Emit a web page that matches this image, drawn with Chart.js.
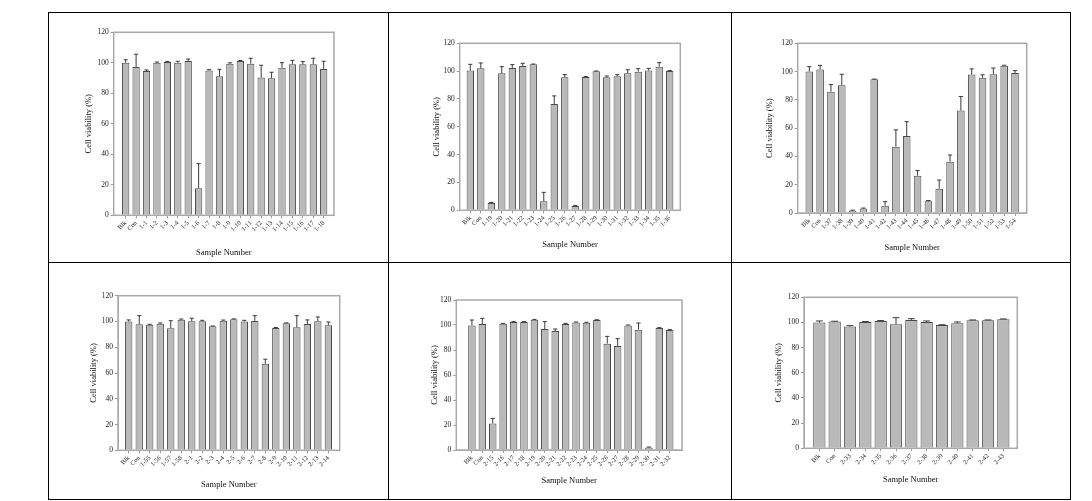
<!DOCTYPE html>
<html>
<head>
<meta charset="utf-8">
<script src="https://cdn.jsdelivr.net/npm/chart.js@4.4.1/dist/chart.umd.min.js"></script>
<style>
  body { margin: 0; background: #fff; width: 1092px; height: 501px; position: relative; overflow: hidden; }
  canvas { position: absolute; }
  .ln { position: absolute; background: #000; z-index: 2; }
</style>
</head>
<body>
<canvas id="c1"></canvas><canvas id="c2"></canvas><canvas id="c3"></canvas>
<canvas id="c4"></canvas><canvas id="c5"></canvas><canvas id="c6"></canvas>
<div class="ln" style="left:48px;top:12px;width:1023px;height:1px"></div>
<div class="ln" style="left:48px;top:262px;width:1023px;height:1px"></div>
<div class="ln" style="left:48px;top:499px;width:1023px;height:1px"></div>
<div class="ln" style="left:48px;top:12px;width:1px;height:488px"></div>
<div class="ln" style="left:388px;top:12px;width:1px;height:488px"></div>
<div class="ln" style="left:731px;top:12px;width:1px;height:488px"></div>
<div class="ln" style="left:1070px;top:12px;width:1px;height:488px"></div>
<script>
// sample labels per panel
const labels1 = ['Blk','Con','1-1','1-2','1-3','1-4','1-5','1-6','1-7','1-8','1-9','1-10','1-11','1-12','1-13','1-14','1-15','1-16','1-17','1-18'];
const labels2 = ['Blk','Con','1-19','1-20','1-21','1-22','1-23','1-24','1-25','1-26','1-27','1-28','1-29','1-30','1-31','1-32','1-33','1-34','1-35','1-36'];
const labels3 = ['Blk','Con','1-37','1-38','1-39','1-40','1-41','1-42','1-43','1-44','1-45','1-46','1-47','1-48','1-49','1-50','1-51','1-52','1-53','1-54'];
const labels4 = ['Blk','Con','1-55','1-56','1-57','1-58','2-1','2-2','2-3','2-4','2-5','2-6','2-7','2-8','2-9','2-10','2-11','2-12','2-13','2-14'];
const labels5 = ['Blk','Con','2-15','2-16','2-17','2-18','2-19','2-20','2-21','2-22','2-23','2-24','2-25','2-26','2-27','2-28','2-29','2-30','2-31','2-32'];
const labels6 = ['Blk','Con','2-33','2-34','2-35','2-36','2-37','2-38','2-39','2-40','2-41','2-42','2-43'];

// cell viability (%) means
const viab1 = [100, 97.3, 94.6, 100, 100.5, 100, 101.2, 17.7, 95, 91.1, 99.4, 101.2, 99.4, 90.3, 89.8, 96.8, 99, 99, 99, 96];
const viab2 = [100.4, 102, 5.3, 98.4, 102.3, 103.7, 104.9, 6.5, 76.4, 95.6, 3.1, 95.8, 99.9, 95.6, 96.3, 98.4, 99.6, 100.4, 103.2, 100.1];
const viab3 = [100, 101.4, 85.8, 90.3, 1.7, 3.1, 94.5, 5.2, 46.9, 54.5, 26.4, 8.3, 17.2, 36.3, 72.4, 97.9, 95.6, 98.1, 104.2, 99];
const viab4 = [99.9, 97.8, 97.5, 98.3, 94.7, 101.4, 100.1, 100.1, 96.3, 100.6, 101.7, 99.9, 100.4, 67.1, 95, 98.6, 95.5, 98.1, 100.1, 97];
const viab5 = [99.7, 100.8, 21.3, 101, 102.4, 102.4, 104.3, 96.8, 95.2, 100.8, 102.1, 101.9, 104, 85.1, 83.2, 99.7, 96.3, 2.1, 97.6, 96];
const viab6 = [99.9, 100.7, 96.7, 100.4, 101.2, 98.5, 101.9, 100.4, 98, 99.3, 101.7, 101.7, 102.5];

// standard deviations (upper error bars)
const sd1 = [2, 8.3, 0.7, 0.5, 0.3, 1, 1.3, 16.2, 0.5, 4.6, 0.6, 0.3, 3.6, 8.1, 4, 3.3, 2.6, 1.8, 4, 5];
const sd2 = [4.5, 3.9, 0.4, 4.8, 2.4, 1.9, 0.2, 6.4, 5.8, 1.9, 0.4, 0.3, 0.2, 0.9, 1.2, 2.6, 2.2, 1.6, 2.9, 0.3];
const sd3 = [3.5, 3, 5, 7.8, 0.3, 0.4, 0.2, 2.8, 11.9, 10.1, 3.6, 0.5, 6.1, 4.7, 10, 4, 2.1, 4.4, 0.3, 1.7];
const sd4 = [1.3, 6.7, 0.3, 0.5, 5.9, 0.5, 2.4, 0.8, 0.2, 0.5, 0.3, 1, 4.1, 3.6, 0.3, 0.3, 9, 3.1, 3.4, 2.6];
const sd5 = [4.3, 4.5, 4, 0.3, 0.3, 0.3, 0.2, 5.9, 1.6, 0.5, 0.3, 0.3, 0.2, 5.8, 5.9, 0.3, 5.3, 0.3, 0.3, 0.3];
const sd6 = [1.3, 0.3, 0.8, 0.3, 0.3, 5.3, 1.1, 0.8, 0.2, 1.1, 0.3, 0.3, 0.3];

const yTicks = [0, 20, 40, 60, 80, 100, 120];

// layout: table cell, plot frame, title positions, x range
const panels = [
  { id: 'c1', cell: [48, 12, 388, 262], frame: [113.7, 32.3, 334, 215.3], yt: 88.7, xt: 252.3, xr: [-1.15, 19.99], bp: 0.7 },
  { id: 'c2', cell: [388, 12, 731, 262], frame: [459.7, 43.3, 680.3, 210.3], yt: 436.3, xt: 245, xr: [-1.01, 20.01], bp: 0.7 },
  { id: 'c3', cell: [731, 12, 1070, 262], frame: [797.7, 43.3, 1026.7, 213], yt: 770, xt: 248, xr: [-1.07, 20.08], bp: 0.7 },
  { id: 'c4', cell: [48, 262, 388, 499], frame: [118, 295.7, 339.7, 450.3], yt: 93.7, xt: 484.3, xr: [-1.02, 20.08], bp: 0.7 },
  { id: 'c5', cell: [388, 262, 731, 499], frame: [456.3, 300, 682, 450], yt: 434.3, xt: 481, xr: [-1.5, 20.18], bp: 0.72 },
  { id: 'c6', cell: [731, 262, 1070, 499], frame: [804, 297.3, 1017.3, 448.3], yt: 778.7, xt: 480, xr: [-1.0, 12.91], bp: 0.8 }
];

const allLabels = [labels1, labels2, labels3, labels4, labels5, labels6];
const allViab = [viab1, viab2, viab3, viab4, viab5, viab6];
const allSd = [sd1, sd2, sd3, sd4, sd5, sd6];

const serif = "'Liberation Serif', 'DejaVu Serif', serif";
const titleSize = 8.5, lh = titleSize * 1.2;

function makeChart(p, lbls, vals, sd) {
  const cv = document.getElementById(p.id);
  const [cl, ct, cr, cb] = p.cell;
  const [fl, ft, fr, fb] = p.frame;
  cv.width = cr - cl; cv.height = cb - ct;
  cv.style.left = cl + 'px'; cv.style.top = ct + 'px';
  const yW = fl - p.yt + lh / 2;
  const xH = p.xt - fb + lh / 2;

  const errorBars = {
    id: 'errorBars',
    afterDatasetsDraw(chart) {
      const ctx = chart.ctx, y = chart.scales.y;
      const meta = chart.getDatasetMeta(0);
      ctx.save();
      ctx.strokeStyle = '#3a3a3a';
      ctx.lineWidth = 1;
      meta.data.forEach((bar, i) => {
        const yv = y.getPixelForValue(vals[i]);
        const ye = y.getPixelForValue(vals[i] + sd[i]);
        const cap = bar.width * 0.28;
        ctx.beginPath();
        ctx.moveTo(bar.x, yv); ctx.lineTo(bar.x, ye);
        ctx.moveTo(bar.x - cap, ye); ctx.lineTo(bar.x + cap, ye);
        ctx.stroke();
      });
      ctx.restore();
    }
  };
  const frame = {
    id: 'frame',
    afterDraw(chart) {
      const a = chart.chartArea, ctx = chart.ctx;
      ctx.save();
      ctx.strokeStyle = '#a9a9a9';
      ctx.lineWidth = 1.5;
      ctx.strokeRect(a.left, a.top, a.right - a.left, a.bottom - a.top);
      ctx.restore();
    }
  };

  return new Chart(cv.getContext('2d'), {
    type: 'bar',
    data: {
      datasets: [{
        data: vals.map((v, i) => ({ x: i, y: v })),
        backgroundColor: '#b9b9b9',
        borderColor: '#4a4a4a',
        borderWidth: 1,
        categoryPercentage: 1,
        barPercentage: p.bp
      }]
    },
    options: {
      responsive: false,
      animation: false,
      layout: { padding: { left: fl - cl - yW, top: ft - ct, right: cr - fr, bottom: cb - fb - xH } },
      plugins: { legend: { display: false }, tooltip: { enabled: false } },
      scales: {
        x: {
          type: 'linear',
          min: p.xr[0], max: p.xr[1],
          offset: false,
          afterBuildTicks: (ax) => { ax.ticks = lbls.map((l, i) => ({ value: i })); },
          afterFit: (ax) => { ax.height = xH; },
          grid: { drawOnChartArea: false, offset: false, tickLength: 3, color: '#999' },
          border: { display: true, color: '#a9a9a9' },
          ticks: {
            autoSkip: false, maxRotation: 45, minRotation: 45, padding: 1,
            font: { family: serif, size: 6.5 }, color: '#222',
            callback: (v, i) => lbls[i]
          },
          title: { display: true, text: 'Sample Number', padding: 0, font: { family: serif, size: titleSize, lineHeight: 1.2 }, color: '#111' }
        },
        y: {
          min: 0, max: 120,
          afterBuildTicks: (ax) => { ax.ticks = yTicks.map(v => ({ value: v })); },
          afterFit: (ax) => { ax.width = yW; },
          grid: { drawOnChartArea: false, tickLength: 3, color: '#999' },
          border: { display: true, color: '#a9a9a9' },
          ticks: { padding: 2, font: { family: serif, size: 7.5 }, color: '#222' },
          title: { display: true, text: 'Cell viability (%)', padding: 0, font: { family: serif, size: titleSize, lineHeight: 1.2 }, color: '#111' }
        }
      }
    },
    plugins: [errorBars, frame]
  });
}

panels.forEach((p, k) => makeChart(p, allLabels[k], allViab[k], allSd[k]));
</script>
</body>
</html>
